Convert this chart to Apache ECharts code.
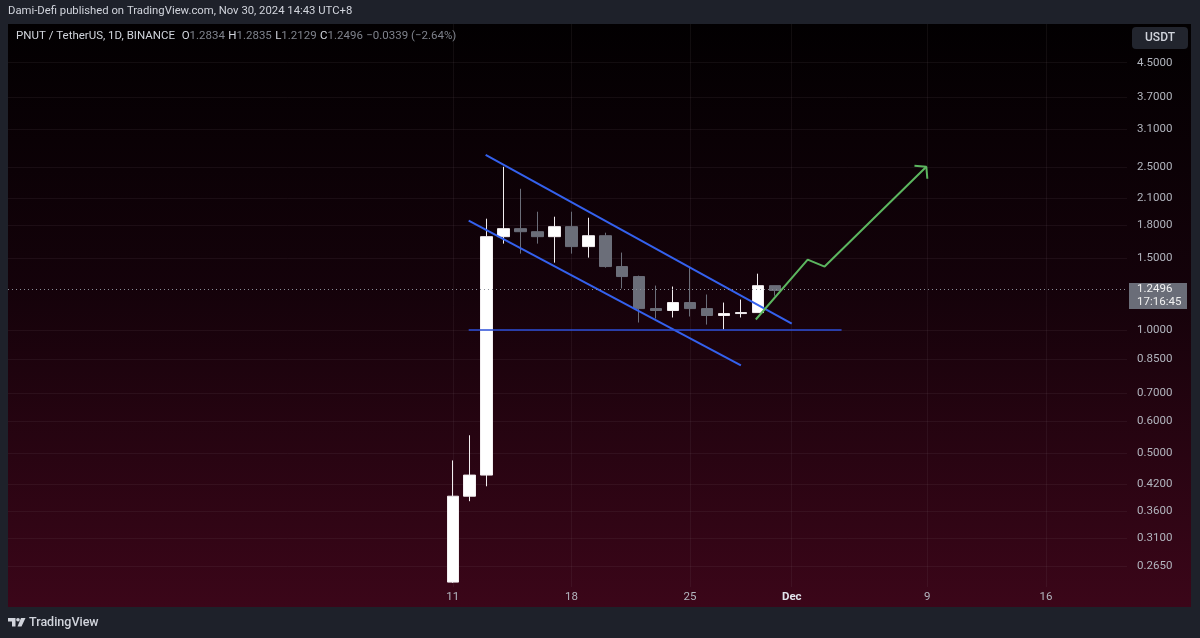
<!DOCTYPE html>
<html><head><meta charset="utf-8">
<script src="https://cdn.jsdelivr.net/npm/echarts@6/dist/echarts.min.js"></script>
<style>html,body{margin:0;padding:0;background:#1e212a;}#c{width:1200px;height:638px;}</style>
</head><body><div id="c"></div><script>
// ---- data ----
const dates  = ['2024-11-11','2024-11-12','2024-11-13','2024-11-14','2024-11-15','2024-11-16','2024-11-17','2024-11-18','2024-11-19','2024-11-20',
                '2024-11-21','2024-11-22','2024-11-23','2024-11-24','2024-11-25','2024-11-26','2024-11-27','2024-11-28','2024-11-29','2024-11-30'];
const opens  = [0.242, 0.3925, 0.442, 1.691, 1.769, 1.739, 1.691, 1.789, 1.599, 1.700, 1.429, 1.351, 1.128, 1.116, 1.167, 1.128, 1.085, 1.097, 1.103, 1.2834];
const highs  = [0.480, 0.553, 1.871, 2.506, 2.214, 1.946, 1.892, 1.946, 1.881, 1.729, 1.546, 1.358, 1.284, 1.277, 1.429, 1.221, 1.167, 1.187, 1.373, 1.2835];
const lows   = [0.241, 0.3816, 0.415, 1.626, 1.537, 1.626, 1.461, 1.537, 1.503, 1.420, 1.263, 1.043, 1.067, 1.073, 1.079, 1.031, 1.003, 1.073, 1.103, 1.2129];
const closes = [0.3925, 0.442, 1.691, 1.769, 1.739, 1.691, 1.789, 1.599, 1.700, 1.429, 1.351, 1.128, 1.116, 1.167, 1.128, 1.085, 1.097, 1.103, 1.2835, 1.2496];

const yTicks = [0.265, 0.31, 0.36, 0.42, 0.5, 0.6, 0.7, 0.85, 1.0, 1.5, 1.8, 2.1, 2.5, 3.1, 3.7, 4.5];
const xTickDates  = ['2024-11-11','2024-11-18','2024-11-25','2024-12-01','2024-12-09','2024-12-16'];
const xTickLabels = ['11','18','25','Dec','9','16'];

// drawings (time, price)
const upperChannel = [['2024-11-12T22:34', 2.68], ['2024-12-01T00:00', 1.037]];
const lowerChannel = [['2024-11-11T22:34', 1.85], ['2024-11-28T00:00', 0.819]];
const supportLine  = [['2024-11-11T22:34', 1.0], ['2024-12-03T22:34', 1.0]];
const projection   = [['2024-11-28T21:07', 1.061], ['2024-12-01T22:34', 1.486], ['2024-12-02T22:34', 1.429], ['2024-12-08T22:34', 2.506]];
const arrowHead    = [['2024-12-08T05:46', 2.52], ['2024-12-08T22:34', 2.506], ['2024-12-09T00:00', 2.342]];

const headerText = 'Dami-Defi published on TradingView.com, Nov 30, 2024 14:43 UTC+8';
const symbolText = 'PNUT / TetherUS, 1D, BINANCE';
const countdown  = '17:16:45';
const currency   = 'USDT';

// ---- helpers ----
const BASE = Date.parse('2024-11-11T00:00:00Z');
function dayOf(s){ const t = s.length <= 10 ? s + 'T00:00:00Z' : s + ':00Z'; return (Date.parse(t) - BASE) / 86400000; }
const L = v => Math.log10(v);
const toPts = arr => arr.map(p => [dayOf(p[0]), L(p[1])]);

const candleData = dates.map((d, i) => [dayOf(d), L(opens[i]), L(closes[i]), L(lows[i]), L(highs[i])]);
const xTickVals = xTickDates.map(dayOf);
const n = closes.length;
const lastClose = closes[n - 1];
const chg = closes[n - 1] - closes[n - 2];
const pct = chg / closes[n - 2] * 100;
const signed = v => (v < 0 ? '\u2212' : '+') + Math.abs(v);

const GRID = 'rgba(140,120,130,0.11)';
const FONT = 'Roboto, "Noto Sans", sans-serif';

const chart = echarts.init(document.getElementById('c'), null, {renderer: 'canvas'});
const option = {
  animation: false,
  backgroundColor: '#1e212a',
  grid: {left: 8, right: 73, top: 24, bottom: 51},
  xAxis: {
    type: 'value', min: -26.24, max: 39.78,
    axisLine: {show: false}, axisTick: {show: false, customValues: xTickVals},
    splitLine: {show: true, lineStyle: {color: GRID, width: 1}},
    axisLabel: {
      customValues: xTickVals, margin: 4, color: '#b2b5be', fontSize: 11.5, fontFamily: FONT,
      formatter: v => { const i = xTickVals.findIndex(t => Math.abs(t - v) < 1e-6); const s = i >= 0 ? xTickLabels[i] : ''; return s === 'Dec' ? '{b|Dec}' : s; },
      rich: {b: {color: '#e0e3eb', fontWeight: 'bold', fontSize: 11.5, fontFamily: FONT}}
    }
  },
  yAxis: {
    type: 'value', position: 'right', min: -0.6281, max: 0.7479, scale: true,
    axisLine: {show: false}, axisTick: {show: false, customValues: yTicks.map(L)},
    splitLine: {show: true, lineStyle: {color: GRID, width: 1}},
    axisLabel: {customValues: yTicks.map(L), margin: 10, color: '#b2b5be', fontSize: 11.5, fontFamily: FONT,
      formatter: v => Math.pow(10, v).toFixed(4)}
  },
  series: [
    {
      type: 'candlestick', data: candleData, barWidth: 12, z: 3,
      itemStyle: {color: '#ffffff', color0: '#6b6e79', borderColor: '#f2eef0', borderColor0: '#6b6e79', borderWidth: 1},
      markLine: {
        silent: true, symbol: 'none', label: {show: false},
        lineStyle: {type: [1, 3], color: '#8a8d96', width: 1},
        data: [{yAxis: L(lastClose)}]
      }
    },
    {type: 'line', data: toPts(upperChannel), symbol: 'none', silent: true, z: 4, lineStyle: {color: '#3461ee', width: 2}},
    {type: 'line', data: toPts(lowerChannel), symbol: 'none', silent: true, z: 4, lineStyle: {color: '#3461ee', width: 2}},
    {type: 'line', data: toPts(supportLine), symbol: 'none', silent: true, z: 4, lineStyle: {color: '#2d4fd8', width: 1.6}},
    {type: 'line', data: toPts(projection), symbol: 'none', silent: true, z: 4, lineStyle: {color: '#5cb65f', width: 2}},
    {type: 'line', data: toPts(arrowHead), symbol: 'none', silent: true, z: 4, lineStyle: {color: '#5cb65f', width: 2}}
  ]
};
chart.setOption(option);

const py = chart.convertToPixel({yAxisIndex: 0}, L(lastClose));
const legendRich = {t: {fill: '#d1d4dc', font: '11.5px ' + FONT}, k: {fill: '#d1d4dc', font: '11.5px ' + FONT}, v: {fill: '#7f828c', font: '11.5px ' + FONT}};
chart.setOption({
  graphic: [
    {type: 'rect', z: -100, silent: true, shape: {x: 8, y: 24, width: 1183, height: 583},
     style: {fill: new echarts.graphic.LinearGradient(0, 0, 0, 1, [
       {offset: 0, color: '#020001'}, {offset: 0.45, color: '#14020a'}, {offset: 1, color: '#3b0619'}])}},
    {type: 'text', silent: true, left: 8, top: 6,
     style: {text: headerText, fill: '#d1d4dc', font: '11.3px ' + FONT}},
    {type: 'text', silent: true, left: 16, top: 30,
     style: {
       text: '{t|' + symbolText + '}  {k|O}{v|' + opens[n-1].toFixed(4) + '} {k|H}{v|' + highs[n-1].toFixed(4) +
             '} {k|L}{v|' + lows[n-1].toFixed(4) + '} {k|C}{v|' + closes[n-1].toFixed(4) + '} {v|' +
             signed(+chg.toFixed(4)) + ' (' + signed(+pct.toFixed(2)) + '%)}',
       rich: legendRich
     }},
    {type: 'rect', silent: true, shape: {x: 1132, y: 27, width: 56, height: 22, r: 4}, style: {fill: '#22252e'}},
    {type: 'text', silent: true, x: 1160, y: 38, style: {text: currency, fill: '#d1d4dc', font: '500 12px ' + FONT, align: 'center', verticalAlign: 'middle'}},
    {type: 'rect', silent: true, z: 10, shape: {x: 1129, y: py - 7.5, width: 58, height: 26}, style: {fill: '#6a6d78'}},
    {type: 'text', silent: true, z: 11, x: 1137, y: py - 1, style: {text: lastClose.toFixed(4), fill: '#f0f0f0', font: '11.5px ' + FONT, verticalAlign: 'middle'}},
    {type: 'text', silent: true, z: 11, x: 1137, y: py + 12, style: {text: countdown, fill: '#f0f0f0', font: '11.5px ' + FONT, verticalAlign: 'middle'}},
    {type: 'polygon', silent: true, shape: {points: [[8,618],[15.5,618],[15.5,626.5],[12,626.5],[12,621.5],[8,621.5]]}, style: {fill: '#d1d4dc'}},
    {type: 'circle', silent: true, shape: {cx: 18, cy: 619.8, r: 1.8}, style: {fill: '#d1d4dc'}},
    {type: 'polygon', silent: true, shape: {points: [[21,618],[25.5,618],[21.5,626.5],[17.5,626.5]]}, style: {fill: '#d1d4dc'}},
    {type: 'text', silent: true, x: 29, y: 622.5, style: {text: 'TradingView', fill: '#d1d4dc', font: '500 12.5px ' + FONT, verticalAlign: 'middle'}}
  ]
});
</script></body></html>
